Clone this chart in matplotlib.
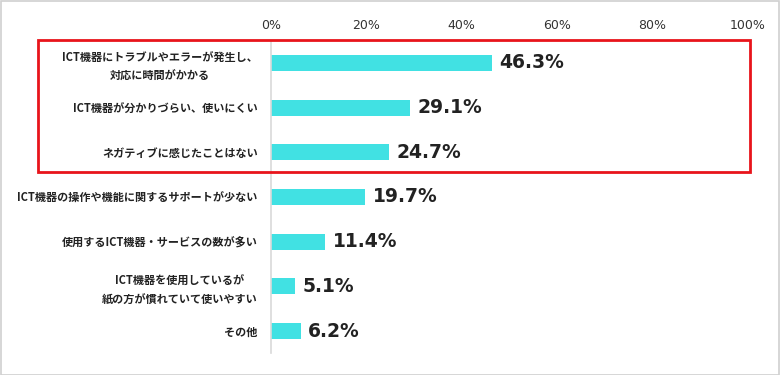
import matplotlib
matplotlib.use("Agg")
import matplotlib.pyplot as plt
from matplotlib.patches import Rectangle

plt.rcParams['font.family'] = ['Noto Sans CJK JP', 'DejaVu Sans']

categories = [
    "ICT機器にトラブルやエラーが発生し、\n対応に時間がかかる",
    "ICT機器が分かりづらい、使いにくい",
    "ネガティブに感じたことはない",
    "ICT機器の操作や機能に関するサポートが少ない",
    "使用するICT機器・サービスの数が多い",
    "ICT機器を使用しているが\n紙の方が慣れていて使いやすい",
    "その他",
]
values = [46.3, 29.1, 24.7, 19.7, 11.4, 5.1, 6.2]
xticks = [0, 20, 40, 60, 80, 100]
xtick_labels = ["0%", "20%", "40%", "60%", "80%", "100%"]

W, H = 780, 375
fig = plt.figure(figsize=(7.8, 3.75), dpi=100)
ax = fig.add_axes([271 / W, 1 - 353.4 / H, (748 - 271) / W, (353.4 - 40.6) / H])

ys = list(range(len(categories)))
ax.barh(ys, values, height=0.36, color="#41E1E3")
ax.set_ylim(len(categories) - 0.5, -0.5)
ax.set_xlim(0, 100)

for y, v in zip(ys, values):
    ax.annotate(f"{v:.1f}%", (v, y), xytext=(5.5, 0), textcoords="offset points",
                va="center", ha="left", fontsize=13.5, fontweight="bold",
                color="#222222", family=["DejaVu Sans"])

ax.set_yticks(ys)
ax.set_yticklabels(categories, fontsize=8.0, fontweight="bold", color="#222222",
                   multialignment="center", linespacing=1.55)
ax.tick_params(axis="y", length=0, pad=9.5)

ax.xaxis.tick_top()
ax.set_xticks(xticks)
ax.set_xticklabels(xtick_labels, fontsize=9, color="#333333", family=["DejaVu Sans"])
ax.tick_params(axis="x", length=0, pad=6.5)

for s in ["top", "right", "bottom"]:
    ax.spines[s].set_visible(False)
ax.spines["left"].set_color("#d9d9d9")
ax.spines["left"].set_linewidth(1.2)

# red highlight box
fig.patches.append(Rectangle((38 / W, 1 - 172 / H), (750 - 38) / W, (172 - 40) / H,
                             transform=fig.transFigure, fill=False,
                             edgecolor="#E8141B", linewidth=2))
# outer light border
fig.patches.append(Rectangle((0.5 / W, 0.5 / H), 1 - 1.5 / W, 1 - 1.5 / H,
                             transform=fig.transFigure, fill=False,
                             edgecolor="#d0d0d0", linewidth=1.2))

fig.savefig("out.png", dpi=100)
